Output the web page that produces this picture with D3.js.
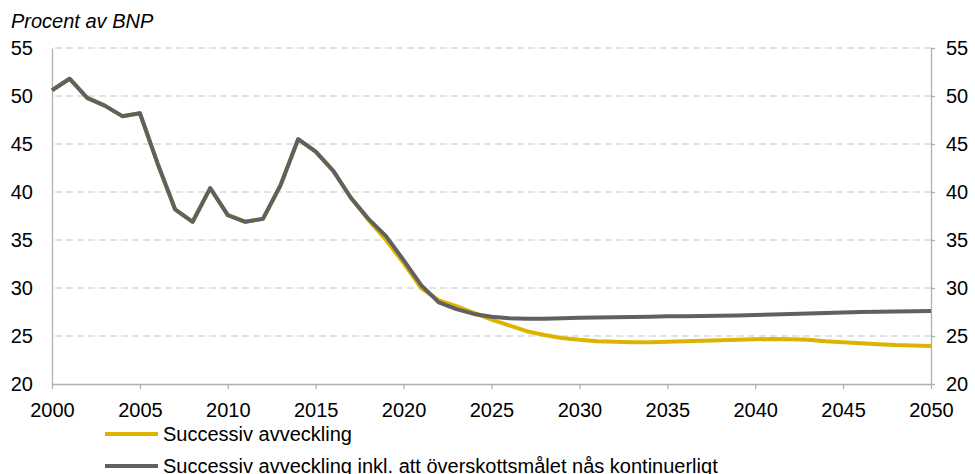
<!DOCTYPE html>
<html>
<head>
<meta charset="utf-8">
<script src="https://cdn.jsdelivr.net/npm/d3@7"></script>
<style>
  body { margin: 0; background: #fff; }
  text { font-family: "Liberation Sans", Arial, sans-serif; fill: #000; }
</style>
</head>
<body>
<svg id="chart" width="975" height="474"></svg>
<script>
// years 2000..2050
var years = d3.range(2000, 2051)

// Successiv avveckling
var successiv = [
  50.6, 51.8, 49.8, 49.0, 47.9, 48.2, 43.0, 38.2, 36.9, 40.4,
  37.6, 36.9, 37.2, 40.7, 45.5, 44.2, 42.2, 39.4, 37.1, 35.0,
  32.6, 30.0, 28.7, 28.1, 27.4, 26.7, 26.1, 25.5, 25.1, 24.8,
  24.6, 24.45, 24.4, 24.35, 24.35, 24.4, 24.45, 24.5, 24.55, 24.6,
  24.65, 24.7, 24.65, 24.6, 24.45, 24.35, 24.25, 24.15, 24.05, 24.0,
  23.95
]

// Successiv avveckling inkl. att överskottsmålet nås kontinuerligt
var inklOverskott = [
  50.6, 51.8, 49.8, 49.0, 47.9, 48.2, 43.0, 38.2, 36.9, 40.4,
  37.6, 36.9, 37.2, 40.7, 45.5, 44.2, 42.2, 39.4, 37.2, 35.4,
  32.9, 30.3, 28.5, 27.8, 27.3, 27.0, 26.85, 26.8, 26.8, 26.85,
  26.9, 26.92, 26.95, 26.98, 27.0, 27.05, 27.07, 27.08, 27.1, 27.13,
  27.2, 27.25, 27.3, 27.35, 27.4, 27.45, 27.5, 27.52, 27.55, 27.57,
  27.6
]

var yTicks = [20, 25, 30, 35, 40, 45, 50, 55]
var xTicks = [2000, 2005, 2010, 2015, 2020, 2025, 2030, 2035, 2040, 2045, 2050]

var series = [
  { name: 'Successiv avveckling', values: successiv, color: '#dcb400' },
  { name: 'Successiv avveckling inkl. att överskottsmålet nås kontinuerligt', values: inklOverskott, color: '#616060' },
]

var svg = d3.select('#chart')
var plotLeft = 52, plotRight = 931, plotTop = 48, plotBottom = 384
var fontSize = 20

var x = d3.scaleLinear().domain([2000, 2050]).range([plotLeft, plotRight])
var y = d3.scaleLinear().domain([20, 55]).range([plotBottom, plotTop])

// grid
svg.append('g')
  .selectAll('line')
  .data(yTicks.filter((d) => d > 20))
  .enter()
  .append('line')
  .attr('x1', plotLeft + 3)
  .attr('x2', plotRight)
  .attr('y1', (d) => y(d))
  .attr('y2', (d) => y(d))
  .attr('stroke', '#d9d9d9')
  .attr('stroke-width', 1.3)
  .attr('stroke-dasharray', '7,4')

// axes
var axisColor = '#b0b0b0'
function styleAxis(g) {
  g.select('.domain').attr('stroke', axisColor).attr('stroke-width', 1.3)
  g.selectAll('.tick line').attr('stroke', axisColor).attr('stroke-width', 1.3)
  g.selectAll('.tick text')
    .attr('font-size', fontSize)
    .attr('font-family', '"Liberation Sans", Arial, sans-serif')
    .attr('fill', '#000')
}

svg.append('g')
  .attr('transform', `translate(0,${plotBottom})`)
  .call(d3.axisBottom(x).tickValues(xTicks).tickFormat(d3.format('d')).tickSize(5).tickSizeOuter(0).tickPadding(14))
  .call(styleAxis)

svg.append('g')
  .attr('transform', `translate(${plotLeft},0)`)
  .call(d3.axisLeft(y).tickValues(yTicks).tickSize(0).tickSizeOuter(0).tickPadding(19))
  .call(styleAxis)

svg.append('g')
  .attr('transform', `translate(${plotRight},0)`)
  .call(d3.axisRight(y).tickValues(yTicks).tickSize(4).tickSizeOuter(0).tickPadding(11))
  .call(styleAxis)

// lines
var line = d3.line()
  .x((d, i) => x(years[i]))
  .y((d) => y(d))

svg.append('g')
  .selectAll('path')
  .data(series)
  .enter()
  .append('path')
  .attr('fill', 'none')
  .attr('stroke', (d) => d.color)
  .attr('stroke-width', 4)
  .attr('stroke-linejoin', 'round')
  .attr('d', (d) => line(d.values))

// title
svg.append('text')
  .attr('x', 11)
  .attr('y', 28)
  .attr('font-size', fontSize)
  .attr('font-style', 'italic')
  .text('Procent av BNP')

// legend
var legend = svg.append('g')
  .selectAll('g')
  .data(series)
  .enter()
  .append('g')
  .attr('transform', (d, i) => `translate(105,${434 + i * 32})`)

legend.append('line')
  .attr('x1', 0)
  .attr('x2', 53)
  .attr('stroke', (d) => d.color)
  .attr('stroke-width', 4)

legend.append('text')
  .attr('x', 58)
  .attr('y', 7)
  .attr('font-size', fontSize)
  .text((d) => d.name)
</script>
</body>
</html>
